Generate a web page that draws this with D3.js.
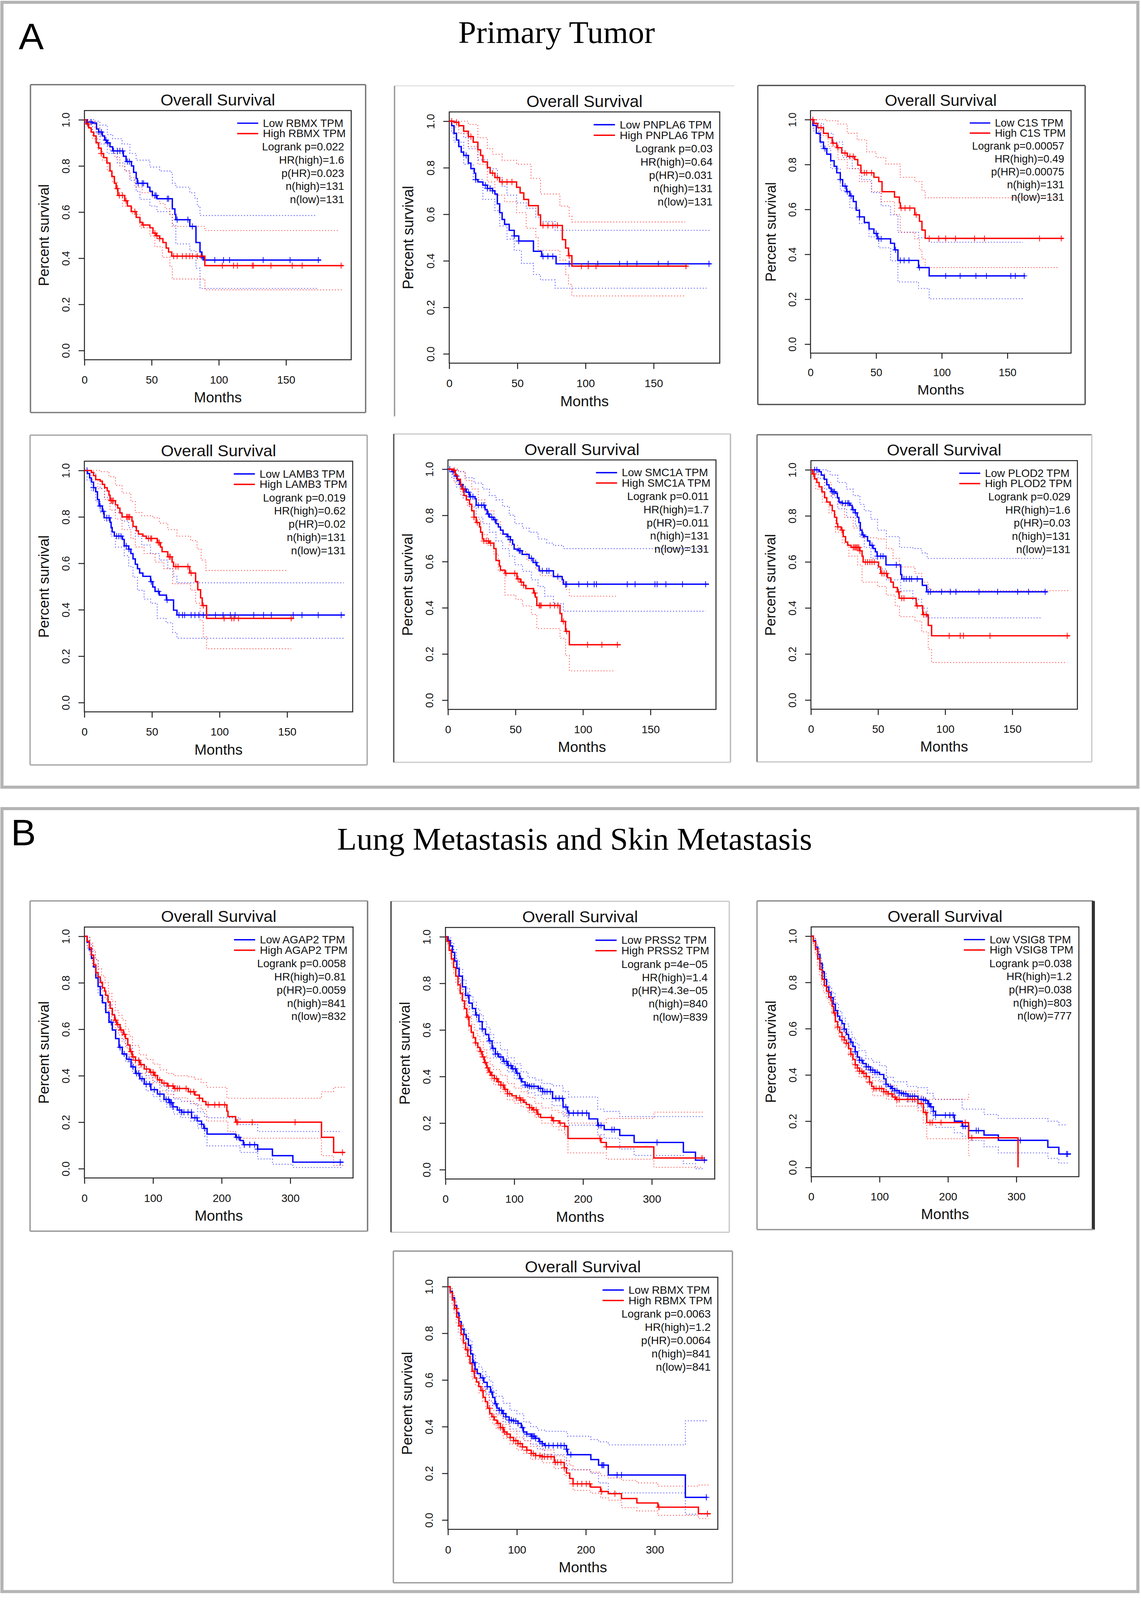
<!DOCTYPE html>
<html>
<head>
<meta charset="utf-8">
<script src="https://cdn.jsdelivr.net/npm/d3@7"></script>
<style>
  html, body { margin: 0; padding: 0; background: #fff; overflow: hidden; }
  svg { display: block; }
</style>
</head>
<body>
<div id="chart"></div>
<script>
// ---------- axis ticks ----------
const tumorTicks = [0, 50, 100, 150];
const metTicks = [0, 100, 200, 300];
const survTicks = [0, 0.2, 0.4, 0.6, 0.8, 1.0];
const sectionTitles = ["Primary Tumor", "Lung Metastasis and Skin Metastasis"];
const sectionLetters = ["A", "B"];
const genes = ["RBMX", "PNPLA6", "C1S", "LAMB3", "SMC1A", "PLOD2", "AGAP2", "PRSS2", "VSIG8", "RBMX"];

// ---------- panel 1: RBMX, primary tumor ----------
const rbmxTumorStats = ["Logrank p=0.022", "HR(high)=1.6", "p(HR)=0.023", "n(high)=131", "n(low)=131"];
const rbmxTumorLow = [[0,1],[2,0.99],[6,0.986],[9,0.96],[10.6,0.947],[13.4,0.93],[15,0.912],[16.7,0.9],[19,0.883],[21,0.865],[29,0.842],[31,0.819],[35,0.8],[36.6,0.772],[38.5,0.745],[39.4,0.725],[47,0.708],[48.7,0.69],[50.6,0.672],[54,0.658],[65.4,0.614],[67.3,0.59],[68,0.567],[78.4,0.538],[83,0.468],[86,0.427],[87.4,0.404],[88.7,0.392],[176,0.392]];
const rbmxTumorLowCensor = [2,5,10.6,12.5,16,17.5,21.7,24.5,26.4,28.3,32,33.5,40,43,44,52.4,53.3,61.7,62.6,69,77,80.3,87.7,97,103.5,108,133,153,174];
const rbmxTumorLowUpper = [[0,1],[7.8,0.994],[11.5,0.977],[17,0.936],[21,0.918],[28,0.895],[33.8,0.854],[38.5,0.825],[48.7,0.795],[56,0.778],[63.6,0.772],[65.4,0.725],[68,0.708],[78.4,0.684],[82,0.661],[84,0.626],[86,0.585],[173,0.585]];
const rbmxTumorLowLower = [[0,1],[1.3,0.988],[6,0.94],[11.5,0.895],[17,0.854],[24.5,0.813],[30,0.778],[33.8,0.737],[38.5,0.69],[41.3,0.655],[48.7,0.626],[54,0.602],[63.6,0.59],[65.4,0.544],[68,0.462],[78.4,0.433],[83,0.357],[86,0.269],[173,0.269]];
const rbmxTumorHigh = [[0,1],[1.3,0.982],[3.2,0.965],[5,0.947],[6.9,0.93],[8.7,0.9],[10.6,0.877],[12.5,0.854],[14.3,0.836],[16.7,0.813],[19,0.778],[20.4,0.754],[22.3,0.725],[23.6,0.702],[24.9,0.672],[30,0.649],[32,0.626],[34.8,0.602],[38.5,0.577],[41.3,0.556],[43,0.544],[48.7,0.532],[51,0.509],[53.3,0.497],[56,0.485],[58.4,0.468],[60.8,0.444],[62.6,0.427],[65,0.409],[89.6,0.368],[192.7,0.368]];
const rbmxTumorHighCensor = [2.6,12.5,24.5,26,28.3,31,37.5,44,52.4,54,56,66.4,69,72.9,75.7,78.4,80.3,84,86.8,102.6,111,113.8,124.9,125.8,138.8,154.6,162,191];
const rbmxTumorHighUpper = [[0,1],[4,0.994],[7.8,0.965],[11.5,0.93],[15.2,0.9],[19,0.871],[22.7,0.836],[26.4,0.8],[30,0.778],[33.8,0.749],[37.5,0.708],[43,0.684],[50.6,0.661],[56,0.637],[60,0.614],[63.6,0.59],[65.4,0.538],[89.6,0.52],[189,0.52]];
const rbmxTumorHighLower = [[0,1],[2.2,0.965],[6,0.918],[9.7,0.871],[13.4,0.825],[17,0.778],[21,0.731],[24.5,0.684],[28.3,0.626],[35.7,0.59],[41.3,0.532],[48.7,0.497],[52.4,0.45],[58,0.404],[63.6,0.363],[65.4,0.31],[89.6,0.263],[191.8,0.263]];

// ---------- panel 2: PNPLA6 ----------
const pnpla6Stats = ["Logrank p=0.03", "HR(high)=0.64", "p(HR)=0.031", "n(high)=131", "n(low)=131"];
const pnpla6Low = [[0,1],[1.8,0.981],[3.5,0.948],[5.3,0.919],[7,0.891],[8.8,0.867],[10.6,0.853],[14,0.82],[15.9,0.796],[18.4,0.777],[19.4,0.749],[21,0.739],[24.7,0.725],[28,0.711],[31.8,0.701],[33.5,0.687],[35.3,0.645],[37,0.607],[38.8,0.578],[40.6,0.557],[44,0.531],[47.7,0.507],[51,0.485],[61.8,0.441],[67.8,0.419],[78.4,0.387],[192,0.387]];
const pnpla6LowCensor = [12.4,19.4,26.5,28,30,31.8,47.7,51,68.8,72.4,76,88,102,109,125,130.6,137.7,153.5,160.6,190.6];
const pnpla6LowUpper = [[0,1],[7,0.98],[10.6,0.93],[14,0.882],[21,0.834],[28,0.796],[35.3,0.758],[38.8,0.72],[42.4,0.682],[49.4,0.649],[56.5,0.626],[63.5,0.588],[67,0.569],[77.7,0.531],[191.7,0.531]];
const pnpla6LowLower = [[0,1],[1.8,0.95],[3.5,0.91],[10.6,0.815],[17.6,0.749],[24.7,0.664],[33.5,0.616],[37,0.55],[42.4,0.493],[47.7,0.445],[53,0.389],[61.8,0.341],[67,0.318],[77.7,0.282],[188.8,0.282]];
const pnpla6High = [[0,1],[3.5,0.995],[7,0.981],[10.6,0.957],[14,0.934],[17.6,0.91],[21,0.877],[23,0.853],[24.7,0.825],[28,0.801],[30,0.777],[33.5,0.758],[37,0.739],[49.4,0.716],[52,0.692],[54.7,0.664],[58.2,0.637],[65.3,0.597],[67,0.552],[83,0.491],[85.4,0.455],[87.5,0.422],[90,0.377],[174.7,0.377]];
const pnpla6HighCensor = [1.8,5.3,15.9,31.8,35.3,38.8,42.4,46,68.8,72.4,76,79.4,88,97,102,107.7,173.7];
const pnpla6HighUpper = [[0,1],[14,0.986],[21,0.929],[28,0.882],[31.8,0.858],[38.8,0.832],[49.4,0.815],[60,0.754],[67,0.687],[81.2,0.635],[88,0.592],[90,0.567],[173,0.567]];
const pnpla6HighLower = [[0,1],[3.5,0.975],[7,0.948],[14,0.891],[21,0.815],[28,0.739],[33.5,0.682],[40.6,0.654],[49.4,0.607],[56.5,0.54],[63.5,0.502],[65.3,0.445],[81.2,0.403],[85.4,0.341],[87.5,0.299],[90,0.249],[173,0.249]];

// ---------- panel 3: C1S ----------
const c1sStats = ["Logrank p=0.00057", "HR(high)=0.49", "p(HR)=0.00075", "n(high)=131", "n(low)=131"];
const c1sLow = [[0,1],[1.8,0.974],[4.4,0.939],[7.3,0.9],[9.9,0.871],[12.4,0.846],[15.4,0.817],[18,0.792],[20,0.763],[22.7,0.733],[24.5,0.704],[27.4,0.679],[30,0.66],[32.6,0.635],[34.8,0.596],[37.3,0.567],[41,0.542],[44.6,0.513],[48.3,0.493],[50.9,0.469],[61,0.449],[64,0.42],[66.6,0.373],[82.3,0.341],[90.4,0.304],[163.6,0.304]];
const c1sLowCensor = [11,22.7,26.3,28,31,37.3,50,52,53.8,64.8,68.4,71.3,75,83,103,114,126,134,152.6,156,162.8];
const c1sLowUpper = [[0,1],[4.4,0.983],[9.9,0.939],[17.2,0.9],[24.5,0.831],[31.8,0.782],[39,0.733],[46.5,0.675],[53.8,0.616],[61,0.576],[66.6,0.498],[82.3,0.474],[90.4,0.454],[161.7,0.454]];
const c1sLowLower = [[0,1],[2.6,0.949],[8,0.871],[15.4,0.782],[22.7,0.684],[30,0.606],[37.3,0.537],[44.6,0.478],[52,0.429],[61,0.371],[66.6,0.277],[82.3,0.248],[90.4,0.202],[161.7,0.202]];
const c1sHigh = [[0,1],[2.6,0.983],[5.5,0.964],[9.9,0.939],[13.5,0.92],[16.5,0.895],[20,0.875],[23.8,0.851],[28,0.836],[33.7,0.822],[36,0.797],[38.4,0.763],[48.3,0.743],[52,0.724],[54.5,0.679],[64,0.655],[67.7,0.63],[68.4,0.606],[79.4,0.576],[83,0.547],[84.9,0.508],[87.4,0.471],[192.8,0.471]];
const c1sHighCensor = [1.8,8,17.2,20.9,26.3,30,32.6,41,42.8,46.5,69,72,75.7,80.5,90.4,97.7,103,110.5,125,132.5,174.5,191];
const c1sHighUpper = [[0,1],[12,0.995],[20.9,0.98],[28,0.939],[35.5,0.91],[42.8,0.856],[50,0.831],[57.4,0.802],[68.4,0.743],[79.4,0.724],[84.9,0.684],[87.4,0.652],[191,0.652]];
const c1sHighLower = [[0,1],[2,0.96],[6.2,0.929],[13.5,0.88],[20.9,0.822],[28,0.782],[37.3,0.724],[46.5,0.679],[53.8,0.635],[64,0.576],[68.4,0.498],[79.4,0.469],[83,0.42],[84.9,0.38],[87.4,0.341],[189,0.341]];

// ---------- panel 4: LAMB3 ----------
const lamb3Stats = ["Logrank p=0.019", "HR(high)=0.62", "p(HR)=0.02", "n(high)=131", "n(low)=131"];
const lamb3Low = [[0,1],[2.3,0.987],[3.9,0.968],[5.2,0.95],[6.8,0.926],[8.4,0.908],[9.7,0.875],[10.9,0.847],[13.3,0.824],[14.6,0.796],[19,0.777],[19.8,0.754],[20.6,0.735],[22.2,0.717],[28.2,0.703],[29.5,0.675],[32.8,0.661],[34.4,0.642],[36,0.619],[37.7,0.596],[39.3,0.577],[40.9,0.558],[43.3,0.544],[49,0.521],[50.6,0.498],[52.3,0.479],[55.5,0.463],[60.7,0.442],[66,0.398],[68.5,0.377],[192.7,0.377]];
const lamb3LowCensor = [2,6.8,11.7,14,16.6,18.2,23.9,25.5,27.1,31,33,49.5,54.7,61.2,70,72.6,74.2,79,81.8,84.7,88,97,102.6,108,111.5,125.3,132.6,138.3,154.5,161,173,190];
const lamb3LowUpper = [[0,1],[5.2,0.99],[8.4,0.959],[11.7,0.922],[15,0.884],[19,0.856],[23,0.819],[27.9,0.782],[32.8,0.754],[37.7,0.717],[42.5,0.679],[49,0.642],[55.5,0.614],[61.7,0.577],[66,0.544],[68.5,0.516],[191.9,0.516]];
const lamb3LowLower = [[0,1],[2,0.959],[5.2,0.912],[8.4,0.866],[11.7,0.819],[15,0.782],[19.8,0.717],[23,0.67],[29.5,0.633],[32.8,0.586],[36,0.54],[39.3,0.484],[44.2,0.446],[49,0.428],[53.9,0.363],[60.4,0.344],[65.3,0.302],[68.5,0.277],[191.9,0.277]];
const lamb3High = [[0,1],[5.2,0.992],[6.8,0.978],[8.4,0.961],[11.7,0.954],[13.3,0.94],[15,0.926],[16.9,0.912],[18.2,0.894],[19,0.87],[23,0.852],[24.7,0.838],[26.3,0.817],[27.9,0.8],[35.2,0.782],[36,0.759],[38.5,0.74],[40,0.726],[43.3,0.717],[45.8,0.707],[53.9,0.689],[56.3,0.67],[57.5,0.65],[61.7,0.628],[64.9,0.605],[66,0.586],[77.9,0.558],[82.3,0.521],[83.9,0.486],[86,0.451],[87.2,0.418],[90.4,0.363],[155,0.363]];
const lamb3HighCensor = [19.8,20.6,21.4,31.2,32,32.8,33.6,47.4,49,49.8,54.7,55.5,62.8,63.6,67.7,69.3,76.6,79,88,103.4,109,110.7,114,153];
const lamb3HighUpper = [[0,1],[11.7,0.995],[18.2,0.973],[23,0.936],[27.9,0.903],[34.4,0.866],[37.7,0.819],[42.5,0.805],[50.6,0.796],[55.5,0.773],[61.7,0.745],[68.5,0.717],[78.6,0.698],[83.4,0.661],[86.4,0.614],[89.9,0.569],[150,0.569]];
const lamb3HighLower = [[0,1],[5.2,0.959],[10,0.922],[15,0.875],[19,0.829],[23,0.791],[27.9,0.745],[34.4,0.707],[37.7,0.67],[44.2,0.642],[52.3,0.605],[58.8,0.577],[65.3,0.512],[78.6,0.484],[82.3,0.428],[85.6,0.353],[88,0.283],[90.4,0.232],[153,0.232]];

// ---------- panel 5: SMC1A ----------
const smc1aStats = ["Logrank p=0.011", "HR(high)=1.7", "p(HR)=0.011", "n(high)=131", "n(low)=131"];
const smc1aLow = [[0,1],[2.9,0.989],[5.4,0.97],[7,0.951],[8.7,0.934],[11.1,0.914],[13.6,0.9],[16,0.881],[20,0.872],[20.9,0.844],[27.5,0.825],[29,0.806],[30.7,0.792],[33.7,0.781],[35.6,0.764],[37.3,0.75],[38.9,0.736],[40.8,0.719],[43.8,0.708],[46.2,0.694],[47.9,0.675],[49,0.654],[52,0.647],[54.9,0.631],[60.1,0.614],[63,0.596],[65.8,0.581],[67.5,0.56],[78.1,0.535],[84.6,0.521],[85.5,0.502],[193.3,0.502]];
const smc1aLowCensor = [1.3,3.8,6.2,9.5,12.7,15.2,16.8,18.5,22.5,25,26.6,29.9,32.4,34.8,44.6,46.2,52.8,53.6,61.8,65,69.9,73.2,74.8,81.4,87.1,87.9,96.9,103.4,108.3,110,132.8,138.6,153.3,154.9,161.4,173.7,190.8];
const smc1aLowUpper = [[0,1],[7.8,0.99],[12.7,0.963],[19.3,0.94],[25.8,0.914],[30.7,0.886],[35.6,0.867],[40.5,0.839],[45.4,0.801],[49.5,0.764],[55.2,0.745],[60.1,0.727],[66.7,0.698],[73.2,0.68],[78.1,0.67],[85.5,0.656],[190.8,0.656]];
const smc1aLowLower = [[0,1],[2.9,0.961],[6.2,0.923],[11.1,0.876],[16,0.839],[20.9,0.792],[25.8,0.764],[30.7,0.727],[35.6,0.689],[40.5,0.656],[45.4,0.624],[49.5,0.586],[55.2,0.558],[61.8,0.521],[66.7,0.492],[71.6,0.45],[78.1,0.418],[85.5,0.385],[190.8,0.385]];
const smc1aHigh = [[0,1],[3.8,0.995],[5.4,0.975],[7,0.956],[9.2,0.933],[10.3,0.914],[11.9,0.886],[13.6,0.867],[16,0.848],[17.6,0.82],[19.3,0.792],[20.9,0.769],[23.4,0.75],[24.2,0.727],[25.5,0.698],[26.6,0.689],[30.7,0.68],[34,0.656],[35.6,0.605],[38.1,0.581],[38.9,0.563],[42.2,0.549],[51.1,0.525],[53.6,0.511],[56,0.497],[57.7,0.483],[63.4,0.464],[64.7,0.446],[65.8,0.41],[83,0.375],[84.3,0.341],[87.1,0.298],[89.9,0.24],[128,0.24]];
const smc1aHighCensor = [4.6,11.1,19.3,21.7,26.6,28.3,29.9,31.5,43,49.5,52,54.4,56,64.2,67.5,68.3,69.1,75.7,78.9,81.4,85.5,87.9,103.4,114,125.5];
const smc1aHighUpper = [[0,1],[7.8,0.989],[12.7,0.951],[17.6,0.914],[22.5,0.867],[27.5,0.82],[34,0.773],[38.9,0.717],[45.4,0.67],[52,0.642],[58.5,0.605],[65,0.567],[68.3,0.539],[83,0.511],[87.1,0.479],[89.9,0.45],[124.7,0.45]];
const smc1aHighLower = [[0,1],[4.6,0.942],[9.5,0.886],[14.4,0.839],[19.3,0.783],[24.2,0.717],[29,0.67],[34,0.633],[37.3,0.558],[42.2,0.455],[50.3,0.436],[55.2,0.408],[61.8,0.371],[65.8,0.31],[83,0.268],[87.1,0.193],[89.9,0.127],[123.9,0.127]];

// ---------- panel 6: PLOD2 ----------
const plod2Stats = ["Logrank p=0.029", "HR(high)=1.6", "p(HR)=0.03", "n(high)=131", "n(low)=131"];
const plod2Low = [[0,1],[6.1,0.992],[7.7,0.977],[9.9,0.959],[11.8,0.935],[13.5,0.921],[15.1,0.905],[18.4,0.898],[19.7,0.879],[20.9,0.86],[23.3,0.855],[29.1,0.846],[30.7,0.827],[32.9,0.813],[34.5,0.794],[35.7,0.771],[36.8,0.738],[38.1,0.717],[39.8,0.71],[42.2,0.691],[43.9,0.672],[46.3,0.658],[48,0.644],[49.3,0.625],[55.9,0.587],[66.9,0.545],[67.7,0.526],[83,0.498],[86.2,0.47],[176,0.47]];
const plod2LowCensor = [2.8,4.4,16,16.8,17.6,23.3,25.8,27.4,28.3,31.5,33.2,39,45.5,49.6,52,53.7,63.6,69.3,71,73.4,75,79.2,87.4,89,97.3,103.8,108,125.2,139.1,154,162.1,174.5];
const plod2LowUpper = [[0,1],[11.8,0.995],[14.3,0.977],[20,0.945],[26.6,0.916],[31.5,0.888],[36.5,0.85],[39.8,0.822],[44.7,0.785],[49.6,0.738],[56.2,0.71],[66,0.663],[75.9,0.658],[82.5,0.639],[86.6,0.615],[173.6,0.615]];
const plod2LowLower = [[0,1],[5.3,0.963],[10.2,0.916],[15.1,0.879],[20,0.831],[26.6,0.794],[33.2,0.756],[36.5,0.71],[39.8,0.663],[44.7,0.616],[49.6,0.569],[56.2,0.522],[66.9,0.474],[75.9,0.437],[82.5,0.399],[86.6,0.357],[172,0.357]];
const plod2High = [[0,1],[1.2,0.982],[2.8,0.961],[4.4,0.945],[6.1,0.926],[8.2,0.904],[10.2,0.879],[11.8,0.86],[14.3,0.846],[15.9,0.822],[17.6,0.794],[19.2,0.766],[20,0.752],[22.5,0.738],[24.1,0.71],[25.8,0.686],[27.4,0.672],[29.9,0.663],[36.5,0.648],[38.1,0.625],[38.9,0.599],[50.4,0.578],[52,0.55],[57,0.531],[59.5,0.512],[61.4,0.489],[64.4,0.47],[65.7,0.442],[78.4,0.409],[83.3,0.371],[86.6,0.367],[87.4,0.324],[89.9,0.279],[192.9,0.279]];
const plod2HighCensor = [2,20,23.3,31.5,32.4,33.2,34,34.8,35.7,36.5,40.6,42.2,43.9,45.5,47.2,52.9,54.5,56.2,65.2,67.7,69.3,79.2,84.1,85.8,103,111.2,113.7,133.4,190.9];
const plod2HighUpper = [[0,1],[5.3,0.982],[10.2,0.945],[15.1,0.888],[20,0.85],[25,0.794],[31.5,0.747],[38.1,0.705],[49.6,0.7],[56.2,0.658],[61.2,0.615],[66,0.578],[77.5,0.55],[82.5,0.512],[87.4,0.484],[89.9,0.475],[192.5,0.475]];
const plod2HighLower = [[0,1],[1.5,0.96],[3.6,0.916],[8.5,0.86],[13.5,0.813],[18.4,0.729],[23.3,0.681],[28.3,0.625],[34.8,0.587],[38.1,0.512],[49.6,0.493],[56.2,0.456],[62.8,0.409],[66,0.362],[77.5,0.343],[82.5,0.296],[87.4,0.221],[89.9,0.163],[190.9,0.163]];

// ---------- panel 7: AGAP2, metastasis ----------
const agap2Stats = ["Logrank p=0.0058", "HR(high)=0.81", "p(HR)=0.0059", "n(high)=841", "n(low)=832"];
const agap2Low = [[0,1],[3.9,0.975],[7.1,0.942],[10.3,0.905],[13.5,0.868],[16.7,0.821],[19.9,0.784],[23.1,0.746],[26.3,0.714],[31.1,0.672],[35.9,0.63],[40.7,0.597],[45.5,0.56],[50.4,0.522],[55.2,0.494],[61.6,0.471],[68,0.438],[74.4,0.41],[80.8,0.387],[87.2,0.364],[96.8,0.34],[106.4,0.321],[116,0.298],[124,0.284],[129,0.266],[135.4,0.252],[141.8,0.243],[156.2,0.219],[164.3,0.205],[170.7,0.191],[173.9,0.173],[178.7,0.149],[220.4,0.135],[226.8,0.121],[231.6,0.103],[252.5,0.084],[274,0.056],[303.8,0.028],[377.6,0.028]];
const agap2LowCensor = [39,52,58,65,71,76,79,84,90,95,102,110,119,122.6,124,125.8,127,129,138.6,141.8,145,151,156,161,164,170.7,175.5,222,225,233,241,248,252.5,372.8];
const agap2LowUpper = [[0,1],[4,0.995],[8,0.965],[12,0.935],[16,0.9],[20,0.815],[25,0.775],[30,0.745],[35,0.705],[40,0.665],[45,0.63],[50,0.595],[55,0.555],[60,0.53],[70,0.47],[80,0.445],[90,0.4],[100,0.375],[110,0.355],[120,0.335],[130,0.3],[140,0.29],[155,0.28],[165,0.245],[175,0.225],[178.7,0.219],[226.8,0.19],[252.5,0.16],[375,0.16]];
const agap2LowLower = [[0,1],[4,0.95],[8,0.915],[12,0.87],[16,0.835],[20,0.755],[25,0.715],[30,0.68],[35,0.635],[40,0.595],[45,0.56],[50,0.525],[55,0.49],[60,0.46],[70,0.41],[80,0.38],[90,0.335],[100,0.31],[110,0.29],[120,0.265],[130,0.235],[140,0.22],[155,0.205],[165,0.175],[175,0.14],[178.7,0.098],[226.8,0.07],[252.5,0.042],[274,0.019],[303.8,0.005],[375,0.005]];
const agap2High = [[0,1],[3.9,0.979],[7.1,0.951],[10.3,0.919],[13.5,0.877],[16.7,0.844],[19.9,0.825],[23.1,0.802],[26.3,0.779],[29.5,0.765],[31.1,0.746],[34.3,0.718],[37.5,0.69],[40.7,0.662],[43.9,0.639],[47.1,0.62],[51.9,0.597],[56.7,0.578],[59.9,0.56],[63.2,0.532],[66.4,0.504],[69.6,0.481],[74.4,0.466],[80.8,0.448],[87.2,0.429],[95.2,0.415],[101.6,0.401],[106.4,0.382],[112.8,0.368],[120.8,0.356],[130.4,0.345],[151.4,0.331],[161,0.317],[167.5,0.303],[172.3,0.289],[177.1,0.275],[207.6,0.247],[209.2,0.224],[220.4,0.2],[345.5,0.135],[363.2,0.07],[379.2,0.07]];
const agap2HighCensor = [45.6,48.8,53.6,58.4,68,71.2,74.4,79.2,82.5,90.5,96.9,100,103.3,109.7,116,122.6,129,132,135.4,138.6,148.2,154.6,159.4,167.5,180.3,190,196.3,204.4,222,223.6,244.5,307,376];
const agap2HighUpper = [[0,1],[4,0.995],[8,0.97],[12,0.94],[16,0.9],[20,0.86],[25,0.83],[30,0.8],[35,0.755],[40,0.72],[45,0.68],[50,0.66],[55,0.64],[60,0.6],[65,0.57],[70,0.53],[80,0.49],[90,0.47],[100,0.45],[110,0.425],[120,0.41],[130,0.4],[150,0.395],[160,0.385],[170,0.37],[178,0.35],[207.6,0.303],[345.5,0.331],[363.2,0.35],[379,0.35]];
const agap2HighLower = [[0,1],[4,0.96],[8,0.925],[12,0.885],[16,0.83],[20,0.8],[25,0.765],[30,0.73],[35,0.68],[40,0.635],[45,0.6],[50,0.575],[55,0.545],[60,0.52],[65,0.47],[70,0.445],[80,0.41],[90,0.39],[100,0.37],[110,0.335],[120,0.32],[130,0.305],[150,0.29],[160,0.275],[170,0.255],[178,0.205],[209,0.16],[220.4,0.131],[345.5,0.056],[363.2,0.014],[379,0.014]];

// ---------- panel 8: PRSS2 ----------
const prss2Stats = ["Logrank p=4e\u221205", "HR(high)=1.4", "p(HR)=4.3e\u221205", "n(high)=840", "n(low)=839"];
const prss2Low = [[0,1],[3.8,0.984],[7,0.961],[10.2,0.933],[13.4,0.896],[16.6,0.864],[19.8,0.831],[24.6,0.785],[29.4,0.748],[34.2,0.715],[39,0.692],[43.8,0.664],[48.6,0.636],[53.4,0.604],[58.2,0.581],[63,0.553],[67.8,0.521],[72.6,0.497],[77.4,0.484],[83.8,0.465],[90.2,0.447],[96.6,0.433],[103,0.414],[107.8,0.391],[111,0.377],[115.8,0.363],[122.2,0.358],[135,0.349],[141.4,0.335],[155.7,0.306],[171,0.269],[177.4,0.25],[179,0.243],[208.6,0.218],[221.3,0.19],[230.8,0.172],[253.4,0.147],[274.3,0.117],[345.9,0.075],[363.5,0.041],[379.7,0.041]];
const prss2LowCensor = [32.6,45.4,53.4,64.6,69.4,72.6,75.8,80.6,85.4,88.6,91.8,95,98.2,101.4,104.6,109.4,115.8,119,122.2,125.4,128.6,135,138.2,141.4,144.5,147.7,152.5,160.5,165.3,170,175,179.7,186,192.5,198.9,205.3,222.9,226.1,242,245.3,307.6,376.4];
const prss2LowUpper = [[0,1],[4,0.995],[8,0.975],[12,0.945],[16,0.9],[20,0.86],[25,0.815],[30,0.78],[35,0.745],[40,0.72],[45,0.69],[50,0.665],[55,0.635],[60,0.61],[65,0.58],[70,0.545],[80,0.515],[90,0.48],[100,0.455],[110,0.42],[120,0.395],[130,0.385],[140,0.37],[155,0.36],[171,0.335],[179,0.312],[221.3,0.26],[230.8,0.25],[253.4,0.228],[375,0.228]];
const prss2LowLower = [[0,1],[4,0.97],[8,0.945],[12,0.91],[16,0.865],[20,0.8],[25,0.755],[30,0.72],[35,0.69],[40,0.665],[45,0.635],[50,0.605],[55,0.575],[60,0.545],[65,0.515],[70,0.48],[80,0.455],[90,0.42],[100,0.39],[110,0.355],[120,0.33],[130,0.32],[140,0.305],[155,0.275],[171,0.23],[179,0.191],[221.3,0.15],[230.8,0.135],[253.4,0.089],[274.3,0.061],[345.9,0.026],[363.5,0.004],[375,0.004]];
const prss2High = [[0,1],[2.2,0.98],[5.4,0.942],[8.6,0.905],[11.8,0.868],[15,0.831],[18.2,0.794],[21.4,0.757],[24.6,0.725],[27.8,0.692],[31,0.655],[34.2,0.618],[37.4,0.59],[40.6,0.567],[43.8,0.544],[47,0.525],[50.2,0.507],[53.4,0.484],[56.6,0.46],[59.8,0.437],[63,0.419],[66.2,0.405],[71,0.391],[75.8,0.377],[80.6,0.363],[85.4,0.345],[90.2,0.326],[96.6,0.317],[103,0.308],[109.4,0.299],[114.2,0.289],[117.4,0.28],[122.2,0.266],[127,0.257],[133.4,0.238],[138.2,0.224],[155.7,0.21],[165.3,0.2],[173.3,0.186],[178.1,0.134],[226.1,0.117],[233.8,0.098],[302.9,0.05],[374.8,0.05]];
const prss2HighCensor = [32.6,43.8,51.8,55,58.2,61.4,64.6,67.8,71,74.2,77.4,80.6,83.8,87,90.2,93.4,103,107.8,109.4,112.6,122.2,125.4,128.6,131.8,135,154.1,157.3,166.9,173.3,224.5,234,373];
const prss2HighUpper = [[0,1],[3,0.99],[6,0.96],[9,0.925],[12,0.89],[15,0.855],[18,0.82],[22,0.78],[26,0.745],[30,0.705],[34,0.66],[38,0.625],[42,0.6],[46,0.575],[50,0.55],[55,0.515],[60,0.48],[65,0.45],[70,0.43],[80,0.405],[90,0.37],[100,0.35],[110,0.335],[120,0.31],[130,0.285],[140,0.265],[155,0.255],[165,0.245],[173.3,0.235],[178.1,0.2],[234,0.22],[303,0.247],[374,0.247]];
const prss2HighLower = [[0,1],[3,0.965],[6,0.925],[9,0.885],[12,0.845],[15,0.805],[18,0.77],[22,0.73],[26,0.69],[30,0.65],[34,0.6],[38,0.565],[42,0.54],[46,0.51],[50,0.485],[55,0.455],[60,0.415],[65,0.385],[70,0.365],[80,0.335],[90,0.3],[100,0.285],[110,0.27],[120,0.245],[130,0.225],[140,0.2],[155,0.185],[165,0.17],[173.3,0.15],[178.1,0.072],[234,0.045],[303,0.01],[374,0.01]];

// ---------- panel 9: VSIG8 ----------
const vsig8Stats = ["Logrank p=0.038", "HR(high)=1.2", "p(HR)=0.038", "n(high)=803", "n(low)=777"];
const vsig8Low = [[0,1],[3.2,0.981],[6.4,0.953],[9.7,0.921],[12.9,0.883],[16.1,0.846],[19.3,0.813],[22.5,0.78],[25.7,0.757],[29,0.734],[32.2,0.706],[35.4,0.678],[38.6,0.654],[41.8,0.636],[45.1,0.622],[48.3,0.598],[51.5,0.575],[54.7,0.556],[57.9,0.542],[61.1,0.523],[64.4,0.5],[67.6,0.477],[70.8,0.463],[75.6,0.449],[80.5,0.435],[86.9,0.421],[93.3,0.411],[99.8,0.402],[106.2,0.383],[109.4,0.36],[112.6,0.35],[117.5,0.341],[122.3,0.332],[128.7,0.322],[135.1,0.318],[141.6,0.308],[156.1,0.294],[164.2,0.29],[170.6,0.276],[173.8,0.262],[178.6,0.243],[181.9,0.226],[209.5,0.2],[220.8,0.178],[230.4,0.159],[252.8,0.14],[273.7,0.117],[346.1,0.087],[362.2,0.058],[379.9,0.058]];
const vsig8LowCensor = [29,48.3,58,64.4,70.8,74,80.5,83.7,86.9,90.1,93.3,96.6,109.4,115.9,119,122.3,125.5,128.7,132,135.2,138.4,141.6,144.8,148,151.3,160.9,164.1,167.3,170.6,172.2,175.4,178.6,181.9,196.3,202.8,207.6,222.1,225.3,241.4,244.6,305.8,373.4,375];
const vsig8LowUpper = [[0,1],[3,0.995],[6,0.97],[9,0.945],[12,0.91],[15,0.875],[18,0.84],[22,0.805],[26,0.78],[30,0.755],[35,0.71],[40,0.675],[45,0.645],[50,0.62],[55,0.585],[60,0.56],[65,0.535],[70,0.505],[80,0.47],[90,0.455],[100,0.44],[110,0.39],[120,0.37],[140,0.35],[156,0.345],[170,0.32],[178.6,0.3],[181.9,0.294],[220.8,0.252],[252.8,0.229],[273.7,0.212],[346.1,0.2],[362.2,0.184],[375,0.184]];
const vsig8LowLower = [[0,1],[3,0.965],[6,0.935],[9,0.9],[12,0.86],[15,0.82],[18,0.79],[22,0.755],[26,0.73],[30,0.705],[35,0.65],[40,0.615],[45,0.59],[50,0.56],[55,0.525],[60,0.5],[65,0.47],[70,0.44],[80,0.41],[90,0.39],[100,0.37],[110,0.33],[120,0.31],[140,0.285],[156,0.26],[170,0.235],[178.6,0.21],[181.9,0.173],[209.5,0.15],[220.8,0.135],[230.4,0.117],[252.8,0.089],[273.7,0.063],[346.1,0.039],[362.2,0.019],[375,0.019]];
const vsig8High = [[0,1],[3.2,0.977],[6.4,0.944],[9.7,0.902],[12.9,0.855],[16.1,0.813],[19.3,0.785],[22.5,0.762],[25.7,0.738],[29,0.72],[30.6,0.696],[32.8,0.668],[35.4,0.631],[38.6,0.607],[41.8,0.584],[45.1,0.565],[48.3,0.551],[51.5,0.537],[54.7,0.514],[57.9,0.49],[61.1,0.467],[64.4,0.444],[67.6,0.43],[70.8,0.416],[75.6,0.407],[80.5,0.393],[85.3,0.369],[88.5,0.35],[91.7,0.341],[106.2,0.327],[112.6,0.318],[119.1,0.304],[123.9,0.294],[156.1,0.276],[164.1,0.238],[169,0.194],[230.1,0.128],[302.5,0]];
const vsig8HighCensor = [33.8,38.6,45.1,48.3,51.5,57.9,64.4,67.6,70.8,74,77.2,80.5,85.3,91.7,94.9,99.8,103,106.2,109.4,112.6,117.5,122.3,125.5,128.7,141.6,148,151.3,160.9,167.3,173.8,177,189.9,225.3,234.9];
const vsig8HighUpper = [[0,1],[3,0.99],[6,0.965],[9,0.93],[12,0.885],[15,0.845],[18,0.815],[22,0.79],[26,0.765],[30,0.735],[35,0.67],[40,0.635],[45,0.6],[50,0.58],[55,0.55],[60,0.51],[65,0.48],[70,0.45],[80,0.425],[90,0.375],[110,0.355],[125,0.33],[156,0.31],[164,0.3],[169,0.294],[230.1,0.318],[233,0.318]];
const vsig8HighLower = [[0,1],[3,0.96],[6,0.92],[9,0.875],[12,0.83],[15,0.785],[18,0.755],[22,0.73],[26,0.705],[30,0.675],[35,0.6],[40,0.57],[45,0.54],[50,0.52],[55,0.485],[60,0.445],[65,0.415],[70,0.39],[80,0.365],[90,0.31],[110,0.295],[125,0.265],[156,0.245],[164,0.19],[169,0.124],[230.1,0.051],[233,0.051]];

// ---------- panel 10: RBMX, metastasis ----------
const rbmxMetStats = ["Logrank p=0.0063", "HR(high)=1.2", "p(HR)=0.0064", "n(high)=841", "n(low)=841"];
const rbmxMetLow = [[0,1],[3.2,0.98],[6.4,0.952],[9.6,0.919],[12.8,0.887],[16,0.85],[19.2,0.818],[23.3,0.794],[26.5,0.776],[29.7,0.748],[32.9,0.711],[36.1,0.674],[39.3,0.646],[42.5,0.627],[47.3,0.609],[52.1,0.59],[56.9,0.571],[61.7,0.548],[64.9,0.525],[68.1,0.498],[71.2,0.479],[74.4,0.47],[79.2,0.456],[84,0.442],[88.8,0.428],[95.2,0.424],[101.6,0.414],[106.4,0.396],[109.6,0.377],[114.4,0.368],[120.8,0.359],[127.2,0.35],[132,0.336],[136.7,0.327],[139.9,0.319],[171.9,0.303],[173.5,0.28],[207.3,0.259],[218.5,0.235],[232.6,0.193],[344.4,0.097],[376.4,0.097]];
const rbmxMetLowCensor = [37.7,50.5,56.9,63.3,69.6,74.4,77.6,80.8,84,88.8,92,95.2,98.4,101.6,108,114.4,120.8,122.4,124,125.6,127.2,133.5,136.7,141.5,146.3,152.7,159.1,163.9,168.7,171.9,178.3,223,224.6,226.2,245.4,251.8,374.8];
const rbmxMetLowUpper = [[0,1],[3,0.995],[6,0.97],[9,0.94],[12,0.91],[15,0.875],[18,0.845],[22,0.82],[26,0.8],[30,0.77],[35,0.71],[40,0.675],[45,0.655],[50,0.635],[55,0.615],[60,0.595],[65,0.555],[70,0.53],[80,0.5],[90,0.47],[100,0.455],[110,0.42],[120,0.4],[130,0.385],[140,0.38],[171.9,0.37],[173.5,0.359],[207.3,0.345],[218.5,0.335],[232.6,0.322],[344.4,0.425],[376,0.425]];
const rbmxMetLowLower = [[0,1],[3,0.965],[6,0.935],[9,0.9],[12,0.865],[15,0.83],[18,0.795],[22,0.77],[26,0.75],[30,0.72],[35,0.64],[40,0.61],[45,0.585],[50,0.56],[55,0.54],[60,0.51],[65,0.49],[70,0.455],[80,0.42],[90,0.39],[100,0.38],[110,0.34],[120,0.325],[130,0.305],[140,0.28],[171.9,0.24],[173.5,0.215],[207.3,0.2],[218.5,0.159],[232.6,0.116],[344.4,0.025],[376,0.025]];
const rbmxMetHigh = [[0,1],[3.2,0.975],[6.4,0.943],[9.6,0.906],[12.8,0.869],[16,0.832],[19.2,0.795],[22.4,0.758],[25.6,0.73],[28.8,0.702],[32,0.67],[35.1,0.637],[38.3,0.609],[41.5,0.591],[44.7,0.572],[47.9,0.554],[51.1,0.526],[54.3,0.507],[57.5,0.479],[60.7,0.456],[63.9,0.442],[67.1,0.428],[71.2,0.414],[76,0.396],[80.8,0.377],[85.6,0.368],[90.4,0.354],[95.2,0.34],[101.6,0.327],[108,0.313],[114.4,0.299],[120.8,0.285],[127.2,0.276],[136.7,0.271],[154.3,0.247],[168.7,0.224],[171.9,0.201],[176.7,0.178],[181.5,0.155],[207,0.141],[221.4,0.122],[232.6,0.113],[251.8,0.092],[274.1,0.073],[304.5,0.055],[363.3,0.027],[381.2,0.027]];
const rbmxMetHighCensor = [12.1,18.5,28.1,37.7,50.5,60.1,66.5,72.8,76,79.2,82.4,85.6,90.4,95.2,98.4,101.6,104.8,108,114.4,120.8,124,127.2,133.5,136.7,139.9,144.7,149.5,155.9,159.1,163.9,168.7,181.5,187.9,194.2,200.6,205.4,223,242.2,306.1,376.4];
const rbmxMetHighUpper = [[0,1],[3,0.99],[6,0.96],[9,0.925],[12,0.89],[15,0.855],[18,0.82],[22,0.785],[26,0.755],[30,0.725],[35,0.665],[40,0.63],[45,0.6],[50,0.57],[55,0.535],[60,0.49],[65,0.47],[70,0.45],[80,0.41],[90,0.38],[100,0.355],[110,0.34],[120,0.315],[137,0.3],[154,0.275],[169,0.255],[176,0.235],[181.5,0.215],[207,0.205],[221.4,0.19],[232.6,0.18],[251.8,0.17],[274.1,0.159],[304.5,0.145],[363.3,0.15],[378,0.15]];
const rbmxMetHighLower = [[0,1],[3,0.955],[6,0.92],[9,0.885],[12,0.845],[15,0.805],[18,0.77],[22,0.735],[26,0.7],[30,0.67],[35,0.605],[40,0.575],[45,0.545],[50,0.51],[55,0.475],[60,0.43],[65,0.41],[70,0.39],[80,0.35],[90,0.325],[100,0.3],[110,0.285],[120,0.26],[137,0.245],[154,0.22],[169,0.19],[176,0.155],[181.5,0.127],[207,0.115],[221.4,0.095],[232.6,0.085],[251.8,0.053],[274.1,0.039],[304.5,0.02],[363.3,0.006],[378,0.006]];

// ---------- layout (page pixels of the 2921 x 4177 figure) ----------
const W = 2921, H = 4177;
// frame of each panel: x, y, width, height
const frames = [
  [78, 221, 858, 856], [1010, 224, 870, 863], [1940, 223, 838, 833],
  [77, 1136, 863, 861], [1008, 1133, 862, 857], [1938, 1135, 857, 854],
  [77, 2352, 864, 862], [1001, 2353, 866, 864], [1938, 2352, 861, 858],
  [1007, 3266, 868, 866]
];
// frame side colours: top, right, bottom, left (null = not drawn)
const frameSides = [
  ["#777", "#777", "#777", "#777"], ["#e4e4e4", null, null, "#999"], ["#555", "#555", "#555", "#555"],
  ["#aaa", "#aaa", "#aaa", "#aaa"], ["#d0d0d0", "#bbb", "#d0d0d0", "#555"], ["#777", "#ccc", "#ccc", "#777"],
  ["#999", "#777", "#999", "#999"], ["#ccc", "#ccc", "#ccc", "#444"], ["#888", "#333", "#999", "#999"],
  ["#999", "#999", "#999", "#999"]
];
const sections = [
  { x: 5, y: 6, w: 2908, h: 2049, titleX: 1425, titleY: 112, letterX: 48, letterY: 128 },
  { x: 5, y: 2111, w: 2908, h: 2044, titleX: 1471, titleY: 2218, letterX: 28, letterY: 2207 }
];

const BLUE = "#0000ff", RED = "#ff0000";
const SANS = "'Liberation Sans', Arial, Helvetica, sans-serif";
const SERIF = "'Liberation Serif', 'Times New Roman', serif";

const grp = (curve, censor, upper, lower) => ({ curve, censor, upper, lower });
const panels = [
  { gene: genes[0], xMax: 198.5, ticks: tumorTicks, stats: rbmxTumorStats,
    low: grp(rbmxTumorLow, rbmxTumorLowCensor, rbmxTumorLowUpper, rbmxTumorLowLower),
    high: grp(rbmxTumorHigh, rbmxTumorHighCensor, rbmxTumorHighUpper, rbmxTumorHighLower) },
  { gene: genes[1], xMax: 198.5, ticks: tumorTicks, stats: pnpla6Stats,
    low: grp(pnpla6Low, pnpla6LowCensor, pnpla6LowUpper, pnpla6LowLower),
    high: grp(pnpla6High, pnpla6HighCensor, pnpla6HighUpper, pnpla6HighLower) },
  { gene: genes[2], xMax: 198.5, ticks: tumorTicks, stats: c1sStats,
    low: grp(c1sLow, c1sLowCensor, c1sLowUpper, c1sLowLower),
    high: grp(c1sHigh, c1sHighCensor, c1sHighUpper, c1sHighLower) },
  { gene: genes[3], xMax: 198.5, ticks: tumorTicks, stats: lamb3Stats,
    low: grp(lamb3Low, lamb3LowCensor, lamb3LowUpper, lamb3LowLower),
    high: grp(lamb3High, lamb3HighCensor, lamb3HighUpper, lamb3HighLower) },
  { gene: genes[4], xMax: 198.5, ticks: tumorTicks, stats: smc1aStats,
    low: grp(smc1aLow, smc1aLowCensor, smc1aLowUpper, smc1aLowLower),
    high: grp(smc1aHigh, smc1aHighCensor, smc1aHighUpper, smc1aHighLower) },
  { gene: genes[5], xMax: 198.5, ticks: tumorTicks, stats: plod2Stats,
    low: grp(plod2Low, plod2LowCensor, plod2LowUpper, plod2LowLower),
    high: grp(plod2High, plod2HighCensor, plod2HighUpper, plod2HighLower) },
  { gene: genes[6], xMax: 391.5, ticks: metTicks, stats: agap2Stats,
    low: grp(agap2Low, agap2LowCensor, agap2LowUpper, agap2LowLower),
    high: grp(agap2High, agap2HighCensor, agap2HighUpper, agap2HighLower) },
  { gene: genes[7], xMax: 391.5, ticks: metTicks, stats: prss2Stats,
    low: grp(prss2Low, prss2LowCensor, prss2LowUpper, prss2LowLower),
    high: grp(prss2High, prss2HighCensor, prss2HighUpper, prss2HighLower) },
  { gene: genes[8], xMax: 391.5, ticks: metTicks, stats: vsig8Stats,
    low: grp(vsig8Low, vsig8LowCensor, vsig8LowUpper, vsig8LowLower),
    high: grp(vsig8High, vsig8HighCensor, vsig8HighUpper, vsig8HighLower) },
  { gene: genes[9], xMax: 391.5, ticks: metTicks, stats: rbmxMetStats,
    low: grp(rbmxMetLow, rbmxMetLowCensor, rbmxMetLowUpper, rbmxMetLowLower),
    high: grp(rbmxMetHigh, rbmxMetHighCensor, rbmxMetHighUpper, rbmxMetHighLower) }
];

// the figure is laid out in 2921x4177 units and stretched to whatever the window shows
const vw = document.documentElement.clientWidth || W;
const vh = document.documentElement.clientHeight || H;
const svg = d3.select("#chart").append("svg")
  .attr("width", vw).attr("height", vh)
  .attr("viewBox", `0 0 ${W} ${H}`)
  .attr("preserveAspectRatio", "none");
svg.append("rect").attr("width", W).attr("height", H).attr("fill", "#fff");

// section boxes, letters and titles
sections.forEach((s, i) => {
  svg.append("rect")
    .attr("x", s.x).attr("y", s.y).attr("width", s.w).attr("height", s.h)
    .attr("fill", "none").attr("stroke", "#b4b4b4").attr("stroke-width", 8);
  svg.append("text")
    .attr("x", s.letterX).attr("y", s.letterY)
    .attr("font-family", SANS).attr("font-size", 96).attr("fill", "#000")
    .text(sectionLetters[i]);
  svg.append("text")
    .attr("x", s.titleX).attr("y", s.titleY)
    .attr("text-anchor", "middle")
    .attr("font-family", SERIF).attr("font-size", 82).attr("fill", "#000")
    .text(sectionTitles[i]);
});

// value of a step curve at time t
function survAt(curve, t) {
  let v = curve[0][1];
  for (const [tt, ss] of curve) if (tt <= t) v = ss;
  return v;
}

function drawPanel(p, i) {
  const [fx, fy, fw, fh] = frames[i];
  const s = fw / 860;
  const left = fx + 0.161 * fw, right = fx + fw * (1 - 0.043);
  const top = fy + 0.079 * fh, bottom = fy + fh * (1 - 0.161);

  const x = d3.scaleLinear().domain([0, p.xMax]).range([left, right]);
  const y = d3.scaleLinear().domain([-0.04, 1.04]).range([bottom, top]);

  const g = svg.append("g").attr("font-family", SANS).attr("fill", "#111");

  // panel frame, side by side
  const sides = [
    [fx, fy, fx + fw, fy], [fx + fw, fy, fx + fw, fy + fh],
    [fx, fy + fh, fx + fw, fy + fh], [fx, fy, fx, fy + fh]
  ];
  sides.forEach((sd, k) => {
    const col = frameSides[i][k];
    if (!col) return;
    g.append("line")
      .attr("x1", sd[0]).attr("y1", sd[1]).attr("x2", sd[2]).attr("y2", sd[3])
      .attr("stroke", col)
      .attr("stroke-width", (i === 8 && k === 1) ? 8 : 3.5);
  });

  // title
  g.append("text")
    .attr("x", (left + right) / 2).attr("y", top - 13 * s)
    .attr("text-anchor", "middle").attr("font-size", 42 * s)
    .text("Overall Survival");

  // axes
  const xAxis = g.append("g")
    .attr("transform", `translate(0,${bottom})`)
    .call(d3.axisBottom(x).tickValues(p.ticks).tickSize(15 * s).tickFormat(d3.format("d")));
  xAxis.select(".domain").remove();
  xAxis.attr("font-family", SANS);
  xAxis.selectAll(".tick line").attr("stroke", "#222").attr("stroke-width", 2.5);
  xAxis.selectAll(".tick text")
    .attr("fill", "#111").attr("font-size", 28 * s)
    .attr("dy", null).attr("y", 62 * s);

  const yAxis = g.append("g")
    .attr("transform", `translate(${left},0)`)
    .call(d3.axisLeft(y).tickValues(survTicks).tickSize(15 * s).tickFormat(d3.format(".1f")));
  yAxis.select(".domain").remove();
  yAxis.attr("font-family", SANS);
  yAxis.selectAll(".tick line").attr("stroke", "#222").attr("stroke-width", 2.5);
  yAxis.selectAll(".tick text")
    .attr("fill", "#111").attr("font-size", 28 * s)
    .attr("dy", null).attr("x", 0).attr("y", -38 * s)
    .attr("text-anchor", "middle")
    .attr("transform", "rotate(-90)");

  // plot box
  g.append("rect")
    .attr("x", left).attr("y", top)
    .attr("width", right - left).attr("height", bottom - top)
    .attr("fill", "none").attr("stroke", "#222").attr("stroke-width", 2.5);

  // axis titles
  g.append("text")
    .attr("x", (left + right) / 2).attr("y", bottom + 111 * s)
    .attr("text-anchor", "middle").attr("font-size", 37.5 * s)
    .text("Months");
  g.append("text")
    .attr("transform", `translate(${left - 91 * s},${(top + bottom) / 2}) rotate(-90)`)
    .attr("text-anchor", "middle").attr("font-size", 37.5 * s)
    .text("Percent survival");

  const step = d3.line()
    .x(d => x(d[0])).y(d => y(d[1]))
    .curve(d3.curveStepAfter);

  const plot = g.append("g");
  // confidence bands (dotted)
  [[p.low, BLUE], [p.high, RED]].forEach(([grp, col]) => {
    [grp.upper, grp.lower].forEach(band => {
      plot.append("path")
        .attr("d", step(band))
        .attr("fill", "none").attr("stroke", col)
        .attr("stroke-opacity", 0.6)
        .attr("stroke-width", 2.4 * s)
        .attr("stroke-dasharray", `${2.5 * s} ${5 * s}`);
    });
  });
  // survival curves with censor marks
  [[p.low, BLUE], [p.high, RED]].forEach(([grp, col]) => {
    plot.append("path")
      .attr("d", step(grp.curve))
      .attr("fill", "none").attr("stroke", col)
      .attr("stroke-width", 3.5 * s);
    const c = 8 * s;
    plot.selectAll(null)
      .data(grp.censor)
      .enter().append("path")
      .attr("d", t => {
        const cx = x(t), cy = y(survAt(grp.curve, t));
        return `M${cx - c},${cy}H${cx + c}M${cx},${cy - c}V${cy + c}`;
      })
      .attr("fill", "none").attr("stroke", col)
      .attr("stroke-opacity", 0.85)
      .attr("stroke-width", 2.2 * s);
  });

  // legend
  const lg = g.append("g").attr("font-size", 28 * s);
  const lowT = lg.append("text").attr("y", top + 42.6 * s).text(`Low ${p.gene} TPM`);
  const highT = lg.append("text").attr("y", top + 69.7 * s).text(`High ${p.gene} TPM`);
  const maxW = Math.max(lowT.node().getComputedTextLength(), highT.node().getComputedTextLength());
  const tx = right - 14 * s - maxW;
  lowT.attr("x", tx);
  highT.attr("x", tx);
  [[BLUE, 42.6], [RED, 69.7]].forEach(([col, off]) => {
    lg.append("line")
      .attr("x1", tx - 66 * s).attr("x2", tx - 12 * s)
      .attr("y1", top + (off - 9.5) * s).attr("y2", top + (off - 9.5) * s)
      .attr("stroke", col).attr("stroke-width", 3.5 * s);
  });
  p.stats.forEach((t, k) => {
    lg.append("text")
      .attr("x", right - 18 * s)
      .attr("y", top + (104.7 + 34.3 * k) * s)
      .attr("text-anchor", "end")
      .text(t);
  });
}

panels.forEach(drawPanel);
</script>
</body>
</html>
